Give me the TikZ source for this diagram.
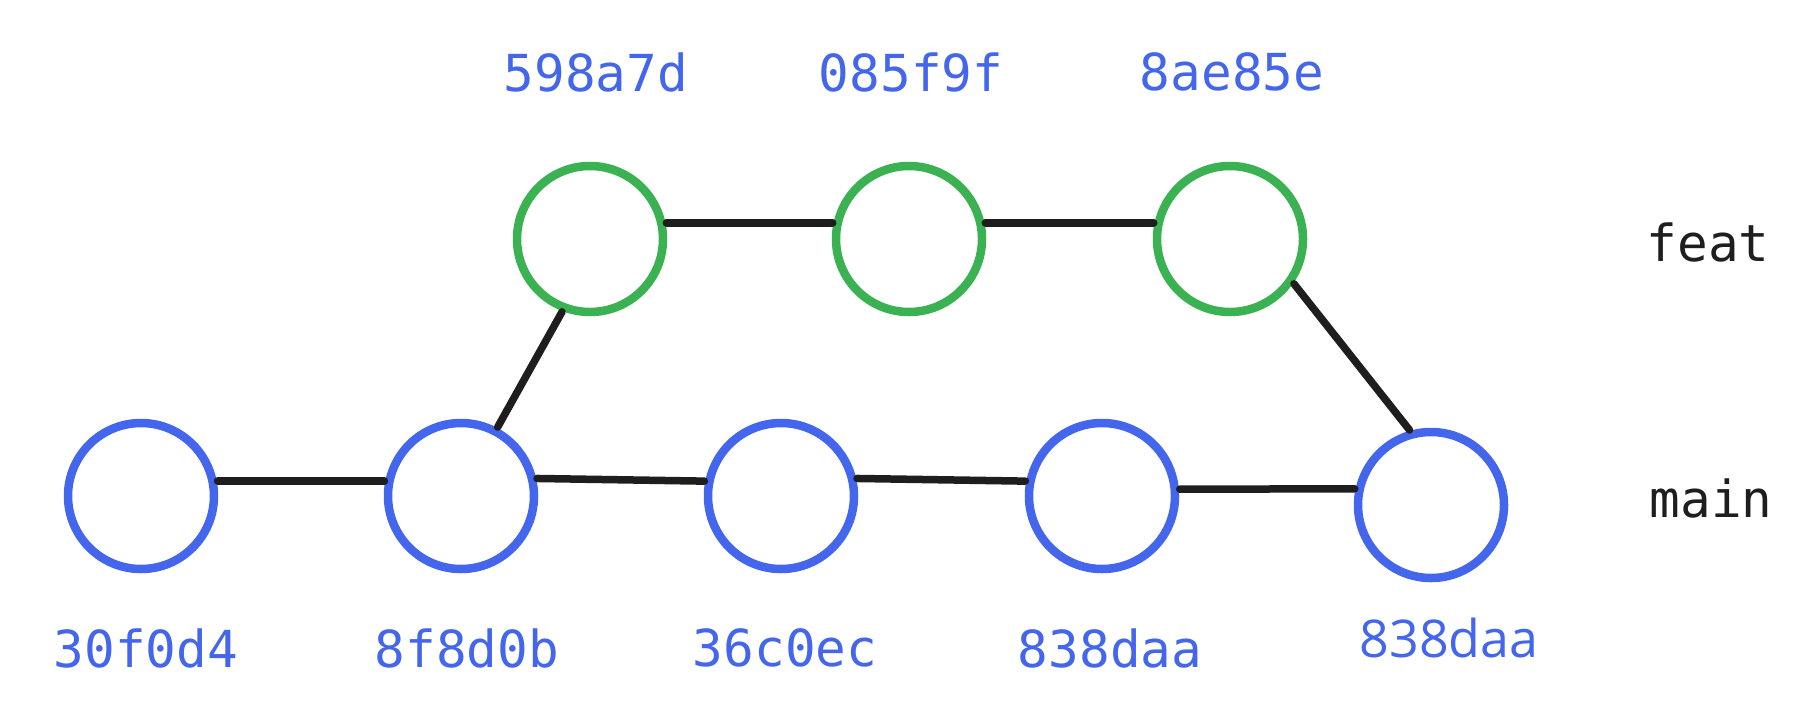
\documentclass[tikz,border=0pt]{standalone}
\usepackage{fontspec}
\setmonofont{DejaVu Sans Mono}
\newfontfamily\tipfont{Open Sans}
\usepackage{xcolor}
\usepackage{tikz}
\usetikzlibrary{positioning}
\definecolor{mainblue}{RGB}{68, 102, 236}
\definecolor{featgreen}{RGB}{58, 178, 82}
\definecolor{edgeblack}{RGB}{30, 30, 30}

\begin{document}
\begin{tikzpicture}[
          x=1pt, y=-1pt,
          commit/.style={circle, draw, line width=8.5pt, minimum size=146pt, inner sep=0pt,
                         outer sep=5pt, fill=white},
          onmain/.style={commit, draw=mainblue},
          onfeat/.style={commit, draw=featgreen},
          hash/.style={font=\ttfamily\fontsize{51}{60}\selectfont, text=mainblue, inner sep=0pt},
          branch/.style={font=\ttfamily\fontsize{51}{60}\selectfont, text=edgeblack, inner sep=0pt},
          link/.style={line width=7.5pt, line cap=round, color=edgeblack},
        ]
        \useasboundingbox (0,0) rectangle (1809,716);

        % main line
        \node[onmain] (m1) at (141,496)  {};
        \node[onmain] (m2) at (461,496)  {};
        \node[onmain] (m3) at (781,496)  {};
        \node[onmain] (m4) at (1102,496) {};
        \node[onmain] (m5) at (1431,505) {};

        % feature line
        \node[onfeat] (f1) at (590,239)  {};
        \node[onfeat] (f2) at (909,239)  {};
        \node[onfeat] (f3) at (1230,239) {};

        \node[hash] (hm1) at (146,648)  {30f0d4};
        \node[hash] (hm2) at (467,648)  {8f8d0b};
        \node[hash] (hm3) at (785,648)  {36c0ec};
        \node[hash] (hm4) at (1110,648) {838daa};
        \node[hash, font=\tipfont\fontsize{52}{60}\selectfont] (hm5) at (1449,638) {838daa};

        \node[hash] (hf1) at (596,72)  {598a7d};
        \node[hash] (hf2) at (911,72)  {085f9f};
        \node[hash] (hf3) at (1232,72) {8ae85e};

        \node[branch] (feat) at (1708,242) {feat};
        \node[branch] (main) at (1711,498) {main};

        \draw[link] (m1.11)  -- (m2.169);
        \draw[link] (m2.13)  -- (m3.169);
        \draw[link] (m3.13)  -- (m4.169);
        \draw[link] (m4.5)   -- (m5.168);
        \draw[link] (m2.62)  -- (f1.249);
        \draw[link] (f1.12)  -- (f2.168);
        \draw[link] (f2.12)  -- (f3.168);
        \draw[link] (f3.-35) -- (m5.106);
      \end{tikzpicture}
\end{document}
